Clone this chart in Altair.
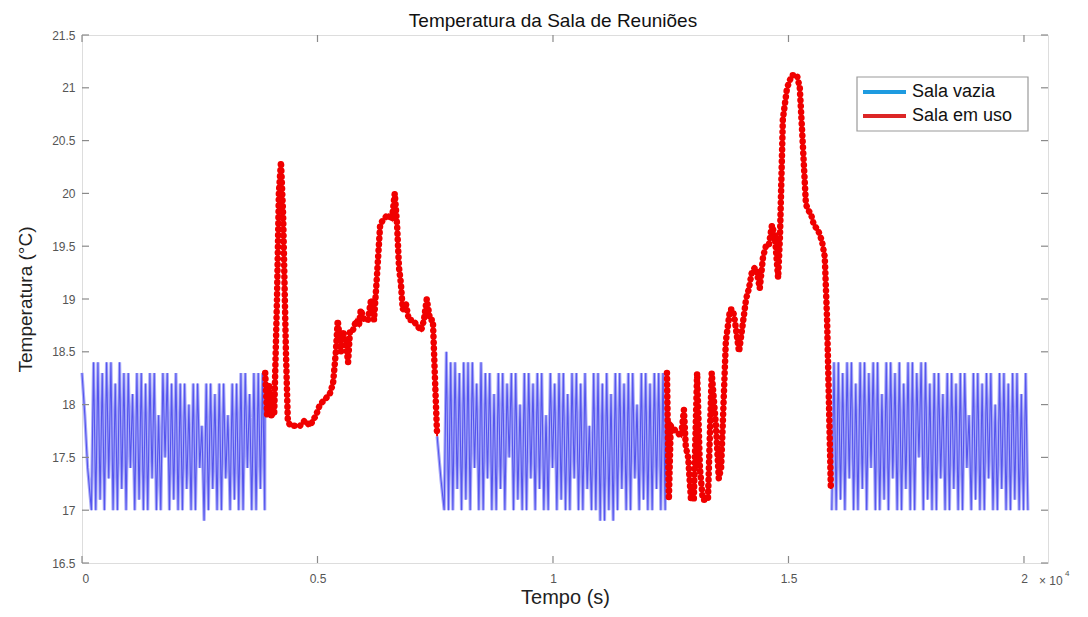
import altair as alt
import pandas as pd

TITLE = "Temperatura da Sala de Reuniões"
X_TITLE = "Tempo (s)"
Y_TITLE = "Temperatura (°C)"
SERIES = ["Sala vazia", "Sala em uso"]
LEGEND_COLORS = ["#1e9be0", "#dc2626"]
X_TICKS = [0, 5000, 10000, 15000, 20000]
Y_TICKS = [16.5, 17, 17.5, 18, 18.5, 19, 19.5, 20, 20.5, 21, 21.5]
X_DOMAIN = [0, 20510]
Y_DOMAIN = [16.5, 21.5]

# ---- Sala vazia (empty room): lead-in points, per-cycle peaks/troughs, tail ----
V1_LEAD_T = [0, 60, 120, 200]
V1_LEAD_V = [18.3, 17.9, 17.4, 17.0]
V1_PERIOD = 92
V1_TOPS = [18.4, 18.4, 18.3, 18.4, 18.4, 18.2, 18.4,
           18.3, 18.3, 18.1, 18.3, 18.3, 18.2, 18.3, 18.3, 17.9, 18.3, 18.3, 18.2, 18.3,
           18.2, 18.2, 18.0, 18.2, 18.2, 17.8, 18.2, 18.2, 18.1, 18.2, 18.2, 17.9, 18.2,
           18.2, 18.3, 18.3, 18.1, 18.3, 18.3, 18.3]
V1_BOTTOMS = [17.0, 17.1, 17.0, 17.3, 17.0, 17.0, 17.2, 17.0, 17.4, 17.0,
              17.1, 17.0, 17.0, 17.3, 17.0, 17.0, 17.5, 17.0, 17.1, 17.0,
              17.0, 17.2, 17.0, 17.0, 17.4, 16.9, 17.0, 17.2, 17.0, 17.0,
              17.3, 17.0, 17.1, 17.0, 17.0, 17.4, 17.0, 17.0, 17.2, 17.0]
V1_TAIL_T = [3885]
V1_TAIL_V = [18.3]

V2_LEAD_T = [7540, 7620, 7690]
V2_LEAD_V = [17.7, 17.3, 17.0]
V2_PERIOD = 92
V2_TOPS = [18.5,
           18.4, 18.4, 18.3, 18.4, 18.4, 18.4, 18.2, 18.4,
           18.3, 18.3, 18.1, 18.3, 18.3, 18.2, 18.3, 18.3, 18.0, 18.3,
           18.3, 18.2, 18.3, 18.3, 17.9, 18.3, 18.2, 18.3, 18.3, 18.1,
           18.3, 18.3, 18.2, 18.3, 17.8, 18.3, 18.3, 18.2, 18.3, 18.1,
           18.3, 18.3, 18.2, 18.3, 18.3, 18.0, 18.3, 18.3, 18.2, 18.3,
           18.3, 18.3]
V2_BOTTOMS = [17.0, 17.0, 17.2, 17.0, 17.1, 17.0, 17.4, 17.0, 17.0, 17.3,
              17.0, 17.0, 17.2, 17.0, 17.5, 17.0, 17.1, 17.0, 17.0, 17.3,
              17.0, 17.2, 17.0, 17.0, 17.4, 17.0, 17.1, 17.0, 17.0, 17.3,
              17.0, 17.0, 17.2, 17.0, 17.0, 16.9, 16.9, 17.0, 16.9, 17.0,
              17.2, 17.0, 17.0, 17.3, 17.0, 17.1, 17.0, 17.0, 17.2, 17.0,
              17.0]
V2_TAIL_T = [12400]
V2_TAIL_V = [18.3]

V3_LEAD_T = [15920]
V3_LEAD_V = [17.0]
V3_PERIOD = 92.5
V3_TOPS = [18.4, 18.4, 18.3, 18.4, 18.4, 18.2, 18.4, 18.4, 18.3, 18.4,
           18.4, 18.1, 18.4, 18.4, 18.3, 18.4, 18.2, 18.4, 18.4, 18.3,
           18.4, 18.4, 18.2,
           18.3, 18.3, 18.1, 18.3, 18.3, 18.2, 18.3, 18.3, 17.9, 18.3,
           18.3, 18.2, 18.3, 18.3, 18.0, 18.3, 18.3, 18.2, 18.3, 18.3,
           18.1, 18.3]
V3_BOTTOMS = [17.0, 17.1, 17.0, 17.3, 17.0, 17.0, 17.2, 17.0, 17.4, 17.0,
              17.0, 17.1, 17.0, 17.3, 17.0, 17.0, 17.2, 17.0, 17.0, 17.5,
              17.0, 17.1, 17.0, 17.0, 17.3, 17.0, 17.0, 17.2, 17.0, 17.0,
              17.4, 17.0, 17.1, 17.0, 17.0, 17.3, 17.0, 17.0, 17.2, 17.0,
              17.0, 17.1, 17.0, 17.0, 17.0]
V3_TAIL_T = []
V3_TAIL_V = []

# ---- Sala em uso (room in use) ----
U1_T = [3890, 3930, 3970, 4010, 4080, 4140, 4180, 4225, 4270, 4330, 4370,
        4420, 4630, 4730, 4840, 4970, 5050, 5160, 5260, 5330, 5390, 5430,
        5500, 5540, 5600, 5650, 5690, 5750, 5820, 5880, 5920, 5990, 6070,
        6140, 6200, 6260, 6330, 6390, 6500, 6580, 6640, 6690, 6730, 6770,
        6810, 6880, 6940, 7030, 7110, 7200, 7260, 7320, 7390, 7450, 7490, 7540]
U1_V = [18.3, 17.9, 18.2, 17.9, 17.9, 19.0, 20.0, 20.3, 19.8, 18.5, 17.85,
        17.8, 17.8, 17.85, 17.8, 17.9, 18.0, 18.05, 18.1, 18.2, 18.5, 18.8,
        18.5, 18.7, 18.6, 18.4, 18.7, 18.7, 18.8, 18.75, 18.9, 18.8, 18.8,
        19.0, 18.8, 19.2, 19.7, 19.75, 19.8, 19.75, 20.0, 19.7, 19.3, 19.15,
        18.9, 18.95, 18.8, 18.8, 18.75, 18.7, 18.8, 19.0, 18.8, 18.8, 18.3, 17.7]

U2_T = [12420, 12460, 12500, 12610, 12720, 12780, 12820, 12870, 12930, 12990,
        13060, 13120, 13180, 13290, 13370, 13460, 13520, 13570, 13670, 13760,
        13820, 13860, 13950, 14010, 14100, 14160, 14220, 14290, 14350, 14390,
        14460, 14520, 14580, 14650, 14710, 14780, 14820, 14880, 14970, 15070,
        15180, 15240, 15300, 15370, 15410, 15480, 15540, 15630, 15710, 15770,
        15820, 15860, 15900]
U2_V = [18.3, 17.1, 17.8, 17.75, 17.7, 17.95, 17.6, 17.5, 17.1, 17.1,
        18.3, 17.4, 17.1, 17.1, 18.3, 17.8, 17.3, 17.4, 18.6, 18.9,
        18.9, 18.8, 18.5, 18.7, 19.0, 19.1, 19.25, 19.3, 19.2, 19.1,
        19.4, 19.5, 19.5, 19.7, 19.6, 19.2, 19.6, 20.7, 21.0, 21.12,
        21.12, 21.0, 20.5, 19.9, 19.85, 19.8, 19.7, 19.65, 19.55, 19.4,
        18.8, 18.0, 17.2]


def vazia_rows(seg, lead_t, lead_v, period, tops, bottoms, tail_t, tail_v):
    rows = [(seg, t, v) for t, v in zip(lead_t, lead_v)]
    t0 = lead_t[-1]
    for k, (top, bot) in enumerate(zip(tops, bottoms)):
        rows.append((seg, t0 + k * period + period / 2, top))
        rows.append((seg, t0 + (k + 1) * period, bot))
    rows += [(seg, t, v) for t, v in zip(tail_t, tail_v)]
    return rows


vazia = pd.DataFrame(
    vazia_rows("v1", V1_LEAD_T, V1_LEAD_V, V1_PERIOD, V1_TOPS, V1_BOTTOMS, V1_TAIL_T, V1_TAIL_V)
    + vazia_rows("v2", V2_LEAD_T, V2_LEAD_V, V2_PERIOD, V2_TOPS, V2_BOTTOMS, V2_TAIL_T, V2_TAIL_V)
    + vazia_rows("v3", V3_LEAD_T, V3_LEAD_V, V3_PERIOD, V3_TOPS, V3_BOTTOMS, V3_TAIL_T, V3_TAIL_V),
    columns=["seg", "t", "temp"],
)
vazia["order"] = range(len(vazia))

uso = pd.DataFrame(
    [("u1", t, v) for t, v in zip(U1_T, U1_V)] + [("u2", t, v) for t, v in zip(U2_T, U2_V)],
    columns=["seg", "t", "temp"],
)
uso["order"] = range(len(uso))

W, H = 966, 528
XS = alt.Scale(domain=X_DOMAIN, nice=False, zero=False)
YS = alt.Scale(domain=Y_DOMAIN, nice=False, zero=False)
FONT = "Liberation Sans"

x_axis = alt.Axis(values=X_TICKS, labelExpr="datum.value / 10000", ticks=False, tickSize=0,
                  domain=False, grid=False, labelPadding=10, labelFontSize=12,
                  labelColor="#555555", labelFont=FONT, title=X_TITLE, titleFont=FONT,
                  titleFontSize=20, titleFontWeight="normal", titleColor="#222222",
                  titlePadding=3)
y_axis = alt.Axis(values=Y_TICKS, format=".1~f", ticks=False, tickSize=0, domain=False,
                  grid=False, labelPadding=7, labelFontSize=12, labelColor="#555555",
                  labelFont=FONT, title=Y_TITLE, titleFont=FONT, titleFontSize=19,
                  titleFontWeight="normal", titleColor="#222222", titlePadding=16)

blue_light = alt.Chart(vazia).mark_line(color="#a9abf8", strokeWidth=3.2).encode(
    x=alt.X("t:Q", scale=XS, axis=x_axis),
    y=alt.Y("temp:Q", scale=YS, axis=y_axis),
    detail="seg:N",
    order="order:Q",
)
blue_dark = alt.Chart(vazia).mark_line(color="#5555ee", strokeWidth=1.1).encode(
    x=alt.X("t:Q", scale=XS),
    y=alt.Y("temp:Q", scale=YS),
    detail="seg:N",
    order="order:Q",
)

red_line = alt.Chart(uso).mark_line(color="#f00000", strokeWidth=2).encode(
    x=alt.X("t:Q", scale=XS), y=alt.Y("temp:Q", scale=YS), detail="seg:N", order="order:Q"
)
red_dots = alt.Chart(uso).mark_line(
    color="#f00000", strokeWidth=6.5, strokeCap="round", strokeDash=[0.1, 5.8]
).encode(x=alt.X("t:Q", scale=XS), y=alt.Y("temp:Q", scale=YS), detail="seg:N", order="order:Q")

xt = pd.DataFrame({"t": X_TICKS})
yt = pd.DataFrame({"v": Y_TICKS})
TICK = dict(color="#8a8a8a", strokeWidth=1.2)
ticks_bottom = alt.Chart(xt).mark_rule(**TICK).encode(
    x=alt.X("t:Q", scale=XS), y=alt.value(H), y2=alt.value(H - 7))
ticks_top = alt.Chart(xt).mark_rule(**TICK).encode(
    x=alt.X("t:Q", scale=XS), y=alt.value(0), y2=alt.value(7))
ticks_left = alt.Chart(yt).mark_rule(**TICK).encode(
    y=alt.Y("v:Q", scale=YS), x=alt.value(0), x2=alt.value(7))
ticks_right = alt.Chart(yt).mark_rule(**TICK).encode(
    y=alt.Y("v:Q", scale=YS), x=alt.value(W - 7), x2=alt.value(W))

one = pd.DataFrame({"k": [0]})
legend_box = alt.Chart(one).mark_rect(fill="white", stroke="#9a9a9a", strokeWidth=1.2).encode(
    x=alt.value(775), x2=alt.value(946), y=alt.value(42), y2=alt.value(96))
legend_layers = []
for i, (name, col) in enumerate(zip(SERIES, LEGEND_COLORS)):
    d = pd.DataFrame({"label": [name]})
    yy = 57 + i * 24
    legend_layers.append(alt.Chart(d).mark_rule(color=col, strokeWidth=4).encode(
        x=alt.value(781), x2=alt.value(824), y=alt.value(yy)))
    legend_layers.append(alt.Chart(d).mark_text(
        align="left", baseline="middle", font=FONT, fontSize=18, color="#111111").encode(
        x=alt.value(830), y=alt.value(yy), text="label:N"))

exp_df = pd.DataFrame({"s": ["× 10"], "e": ["4"]})
exp_text = alt.Chart(exp_df).mark_text(
    align="left", baseline="middle", font=FONT, fontSize=12, color="#555555").encode(
    x=alt.value(957), y=alt.value(546), text="s:N")
exp_sup = alt.Chart(exp_df).mark_text(
    align="left", baseline="middle", font=FONT, fontSize=8, color="#555555").encode(
    x=alt.value(983), y=alt.value(539), text="e:N")

chart = alt.layer(
    blue_light, blue_dark, red_line, red_dots, ticks_bottom, ticks_top, ticks_left, ticks_right,
    legend_box, *legend_layers, exp_text, exp_sup,
).properties(
    width=W, height=H,
    padding={"left": 74, "top": 27, "right": 32, "bottom": 46},
    autosize=alt.AutoSizeParams(type="none"),
    title=alt.Title(TITLE, font=FONT, fontSize=19, fontWeight="normal", color="#111111",
                    anchor="middle", offset=-2, dx=-12),
).configure_view(stroke="#8c8c8c", strokeWidth=2).configure(background="white")

chart.save("out.html", embed_options={"renderer": "svg", "actions": False})
